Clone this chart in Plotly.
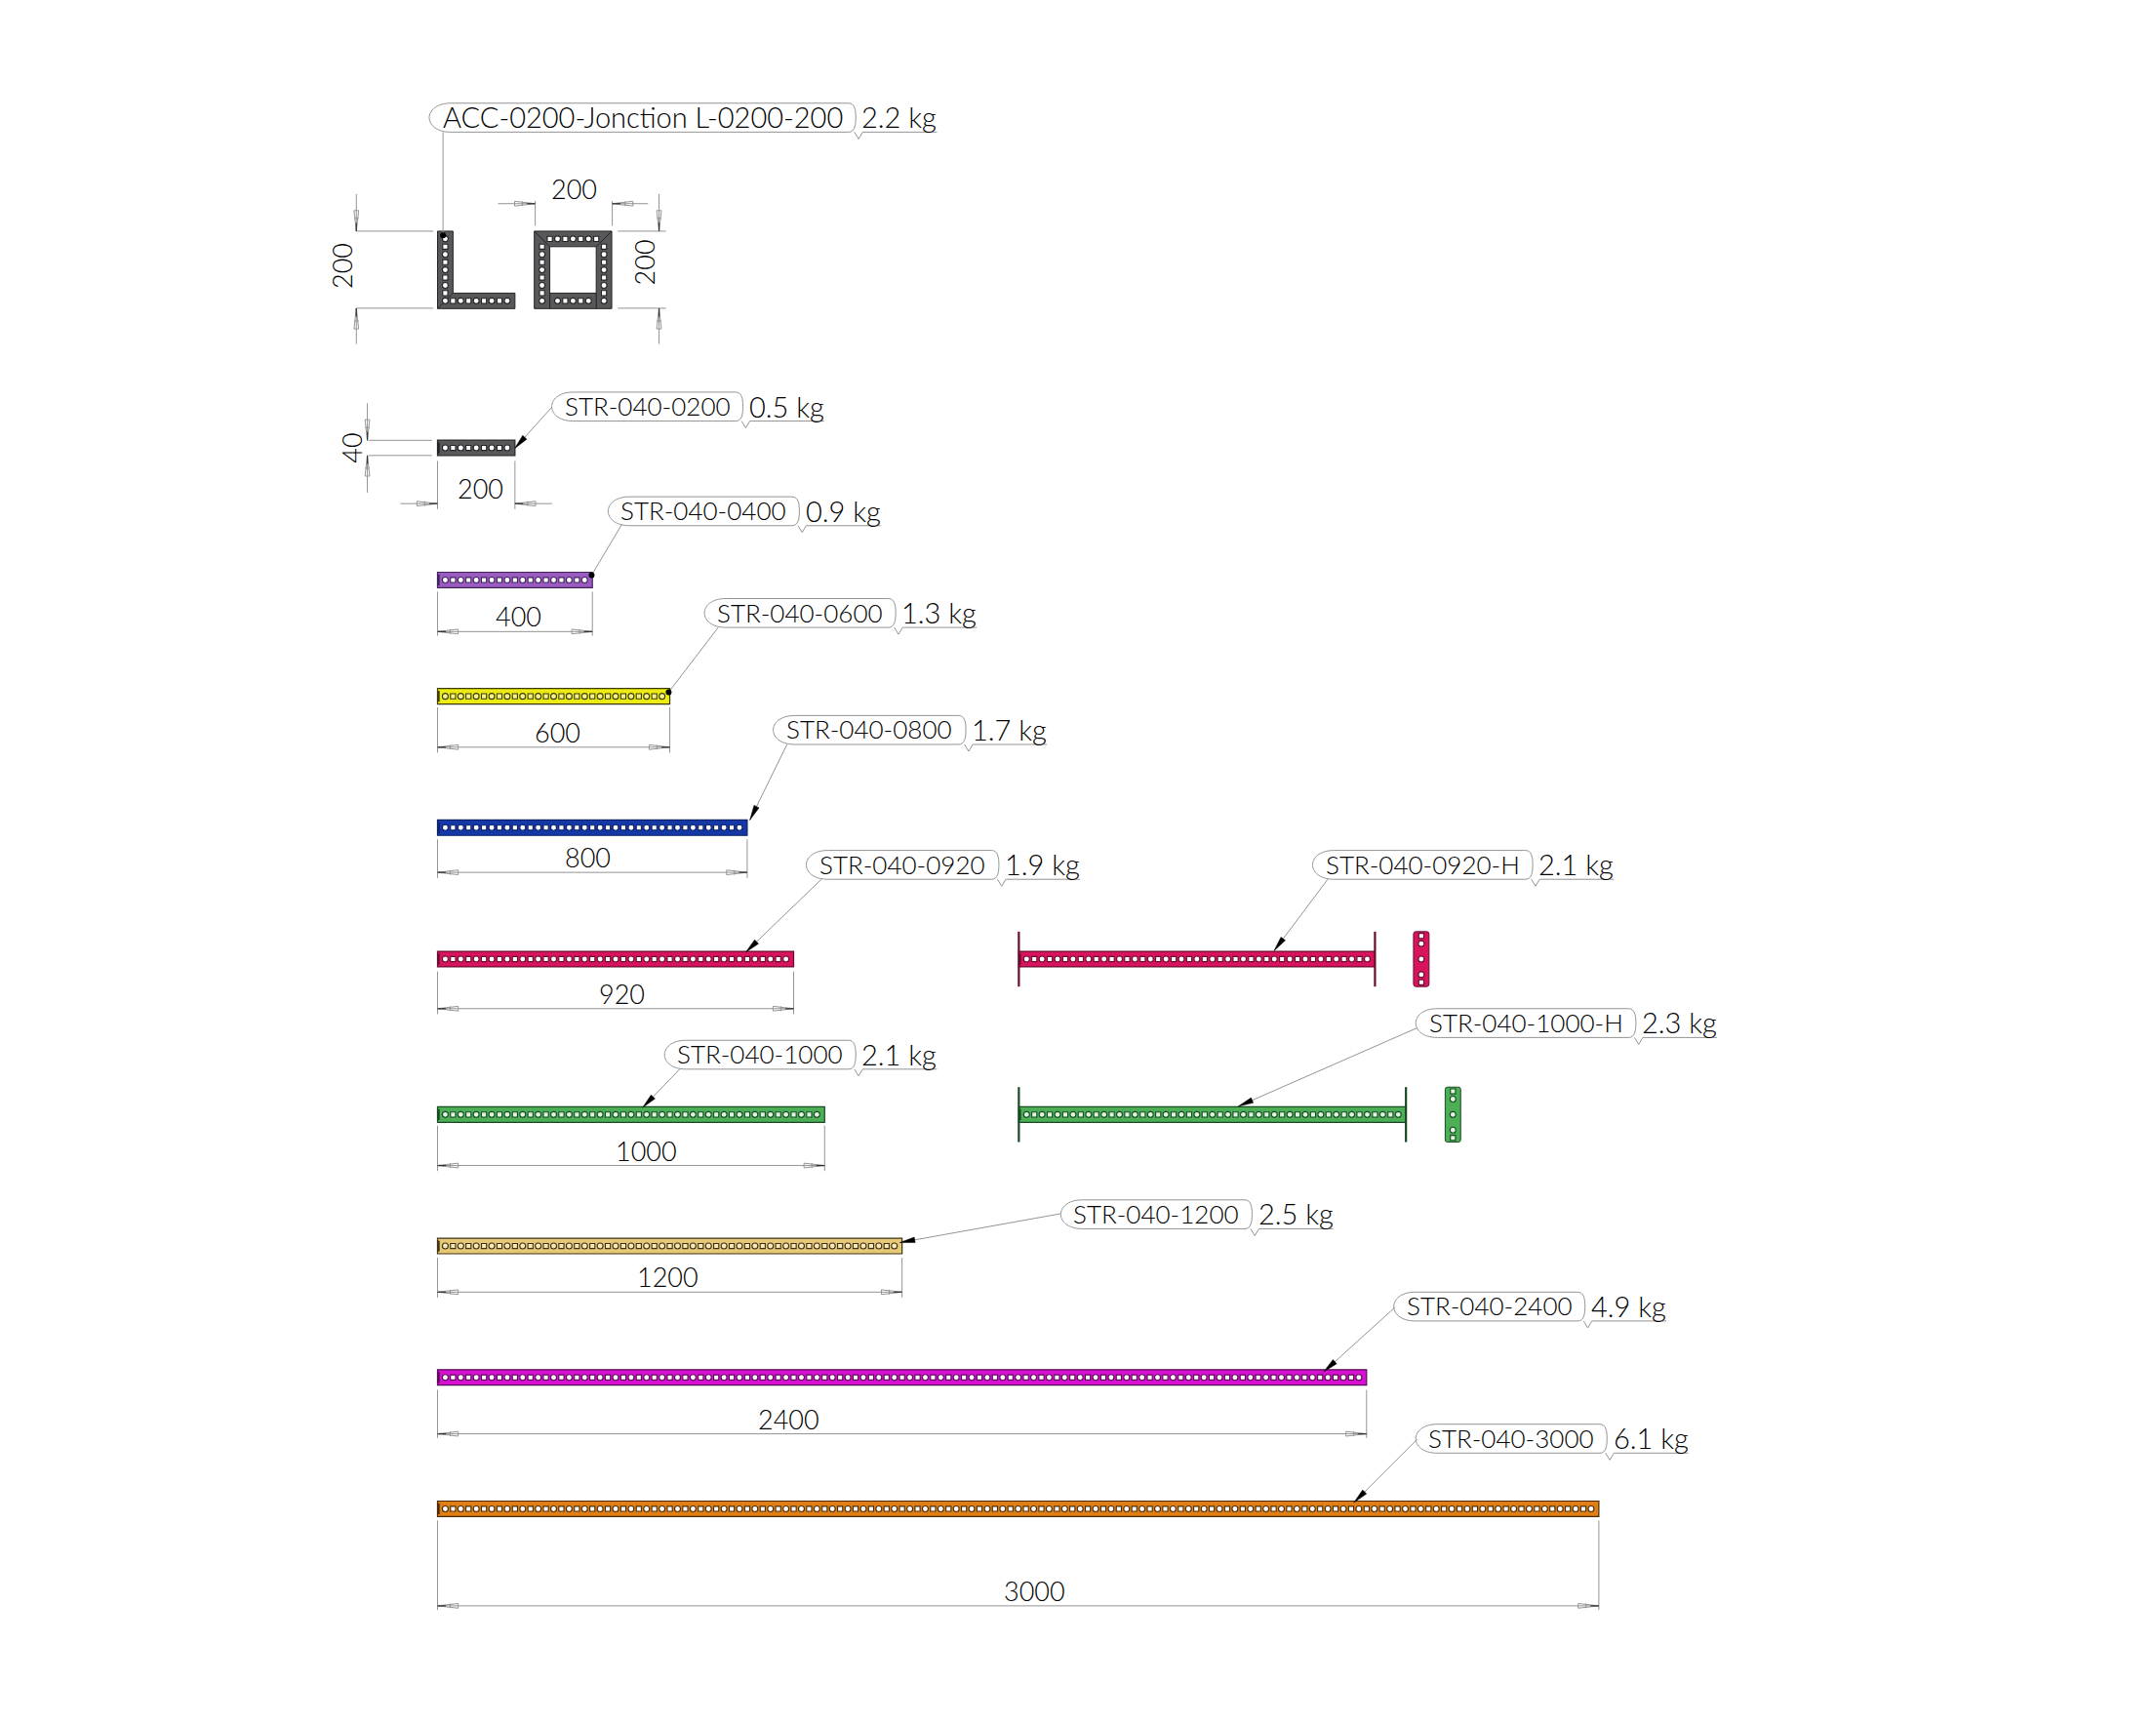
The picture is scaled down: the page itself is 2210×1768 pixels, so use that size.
import numpy as np
import plotly.graph_objects as go

# ---- values (millimetres, kilograms) ----
part_names = ["STR-040-0200", "STR-040-0400", "STR-040-0600", "STR-040-0800", "STR-040-0920",
              "STR-040-1000", "STR-040-1200", "STR-040-2400", "STR-040-3000"]
part_lengths = [200, 400, 600, 800, 920, 1000, 1200, 2400, 3000]
part_weights = ["0.5 kg", "0.9 kg", "1.3 kg", "1.7 kg", "1.9 kg", "2.1 kg", "2.5 kg", "4.9 kg", "6.1 kg"]
h_names = ["STR-040-0920-H", "STR-040-1000-H"]
h_lengths = [920, 1000]
h_weights = ["2.1 kg", "2.3 kg"]
junction_name = "ACC-0200-Jonction L-0200-200"
junction_weight = "2.2 kg"
junction_size = 200
bar_depth = 40
hole_pitch = 20

# ---- styles ----
part_fill = ["#58585a", "#9a5cc0", "#ecec12", "#1438a8", "#d8145e", "#4cae55", "#e6c878", "#d60fd0", "#e08014"]
part_edge = ["#232325", "#43235c", "#3c3a00", "#0c2266", "#6a0c30", "#174a22", "#3e3210", "#5a0a58", "#4a2a08"]
hole_fill = ["#ffffff", "#ffffff", "#f6f290", "#ffffff", "#ffffff", "#dff2df", "#f6e8bc", "#ffffff", "#ffffff"]
GREY = "#949494"
INK = "#000000"
FONT = "Lato"
FS = 27
FS_NAME = 26
FS_JUNCTION = 29
FS_WEIGHT = 29
FW = 300

# ---- page layout, in reference pixels of the preview ----
K = 2210 / 1567
S = 0.3968          # page px per mm
X0 = 318 * K
def mx(d): return (d * K - X0) / S
def my(d): return d * K / S
row_y = [325.5, 421.5, 506, 601.5, 697, 810, 905.5, 1001, 1096.5]
row_dim = [(366, 349, 355, 335, 370), (459, 377, 448, 430, 462), (543, 405, 532, 514, 547),
           (634, 427, 623, 610, 638), (733, 452, 722, 706, 737), (847, 470, 836, 818, 851),
           (939, 485, 928, 914, 943), (1042, 573, 1031, 1010, 1045), (1167, 752, 1156, 1105, 1170)]
# pill left, pill right, pill top, leader start x, y, leader tip x, y
callouts = [(401, 540, 285, 401, 296, 374, 326), (442, 581, 361, 452, 381, 430, 418),
            (512, 651, 435, 522, 456, 486, 503), (562, 702, 520, 572, 541, 545, 596),
            (586, 726, 618, 597, 639, 542, 692), (483, 622, 756, 494, 777, 467, 805),
            (771, 910, 872, 771, 882, 654, 903), (1013, 1152, 939, 1014, 950, 962, 997),
            (1029, 1168, 1035, 1030, 1046, 984, 1092)]
dot_tip = [False, True, True, False, False, False, False, False, False]
h_callouts = [(954, 1114, 618, 965, 639, 926, 691), (1029, 1189, 733, 1030, 747, 900, 804)]
h_row = [4, 5]
h_left = 740.5
h_y = [697, 810]
side_x = [1033, 1056]
junction_call = (312, 622, 75, 322, 96, 322, 171)
frame_offset = 250

fig = go.Figure()
lx, ly = [], []   # thin grey drawing lines
tx_d, ty_d = [], []  # dark arrow tips
ax_, ay_ = [], [] # black arrowheads
dx_, dy_ = [], [] # black dots
ann = []
shapes = []

def seg(x0, y0, x1, y1):
    lx.extend([mx(x0), mx(x1), None]); ly.extend([my(y0), my(y1), None])

def dim_arrow(tx, ty, dx, dy, L=15, h=1.7):
    nx, ny = -dy, dx
    pts = [(tx, ty), (tx + dx*L + nx*h, ty + dy*L + ny*h), (tx + dx*L - nx*h, ty + dy*L - ny*h), (tx, ty)]
    for p in pts:
        lx.append(mx(p[0])); ly.append(my(p[1]))
    lx.append(None); ly.append(None)
    seg(tx + dx*L*0.62 + nx*h, ty + dy*L*0.62 + ny*h, tx + dx*L*0.62 - nx*h, ty + dy*L*0.62 - ny*h)
    tx_d.extend([mx(tx), mx(tx + dx*6), None]); ty_d.extend([my(ty), my(ty + dy*6), None])

def text(x, y, s, angle=0, anchor="center", size=FS):
    ann.append(dict(x=mx(x), y=my(y), text=s, xref="x", yref="y", showarrow=False, textangle=angle,
                    xanchor=anchor, yanchor="middle", font=dict(family=FONT, size=size, color=INK, weight=FW)))

def callout(c, name, weight, dot=False, name_size=FS_NAME):
    x0, x1, top, sx, sy, tx, ty = c
    bot = top + 21
    xa0, xa1, ya0, ya1 = mx(x0), mx(x1), my(top), my(bot)
    r = (ya1 - ya0) / 2
    q = r * 0.45
    shapes.append(dict(type="path", xref="x", yref="y", line=dict(color=GREY, width=1),
        path=f"M {xa0+r*1.5},{ya0} L {xa1-r*0.5},{ya0} C {xa1-q*0.2},{ya0} {xa1},{ya0+q} {xa1},{ya0+r} "
             f"C {xa1},{ya1-q} {xa1-q*0.2},{ya1} {xa1-r*0.5},{ya1} L {xa0+r*1.5},{ya1} "
             f"C {xa0+q},{ya1} {xa0},{ya1-q*1.2} {xa0},{ya0+r} C {xa0},{ya0+q*1.2} {xa0+q},{ya0} {xa0+r*1.5},{ya0} Z"))
    text((x0 + x1) / 2, top + 10, name, size=name_size)
    text(x1 + 3, top + 10, weight, anchor="left", size=FS_WEIGHT)
    end = x1 + 59
    seg(x1 + 5, bot, end, bot)
    seg(x1 - 1, bot, x1 + 2, bot + 5)
    seg(x1 + 2, bot + 5, x1 + 5, bot)
    seg(sx, sy, tx, ty)
    if dot:
        dx_.append(mx(tx)); dy_.append(my(ty))
        return
    d = np.array([sx - tx, sy - ty], float)
    d /= np.hypot(*d)
    n = np.array([-d[1], d[0]])
    b = np.array([tx, ty]) + d * 11
    for p in [(tx, ty), tuple(b + n * 2), tuple(b - n * 2), (tx, ty)]:
        ax_.append(mx(p[0])); ay_.append(my(p[1]))
    ax_.append(None); ay_.append(None)

def holes(xs, ys, kinds, fill, edge):
    for sym, k in (("circle", 0), ("square", 1)):
        idx = [i for i, v in enumerate(kinds) if v == k]
        fig.add_trace(go.Scatter(x=[xs[i] for i in idx], y=[ys[i] for i in idx], mode="markers", hoverinfo="skip",
                                 marker=dict(symbol=sym, size=6 if k == 0 else 5.2, color=fill,
                                             line=dict(color=edge, width=1.1))))

def bar(base, length, y, i):
    fig.add_trace(go.Bar(orientation="h", base=[base], x=[length], y=[my(y)], width=[bar_depth], hoverinfo="skip",
                         marker=dict(color=part_fill[i], line=dict(color=part_edge[i], width=1.2))))
    fig.add_trace(go.Scatter(x=[base + 3, base + 3], y=[my(y) - 14, my(y) + 14], mode="lines", hoverinfo="skip",
                             line=dict(color=part_edge[i], width=2)))
    xs = list(np.arange(hole_pitch, length, hole_pitch) + base)
    holes(xs, [my(y)] * len(xs), [j % 2 for j in range(len(xs))], hole_fill[i], part_edge[i])

def poly(xs, ys, fill, edge):
    fig.add_trace(go.Scatter(x=xs, y=ys, mode="lines", fill="toself", fillcolor=fill, hoverinfo="skip",
                             line=dict(color=edge, width=1)))

# ---- plain bars ----
for i, (name, length, w) in enumerate(zip(part_names, part_lengths, part_weights)):
    bar(0, length, row_y[i], i)
    callout(callouts[i], name, w, dot_tip[i])
    dy, tx, ty, e0, e1 = row_dim[i]
    xr = 318 + length * S / K
    seg(318, e0, 318, e1)
    seg(xr, e0, xr, e1)
    text(tx, ty, str(length))
    if i == 0:
        seg(291, dy, 318, dy); seg(xr, dy, xr + 27, dy)
        dim_arrow(318, dy, -1, 0); dim_arrow(xr, dy, 1, 0)
    else:
        seg(318, dy, xr, dy)
        dim_arrow(318, dy, 1, 0); dim_arrow(xr, dy, -1, 0)

# ---- 40 dimension ----
seg(268, 320, 314, 320); seg(268, 331, 314, 331)
seg(267, 293, 267, 320); seg(267, 331, 267, 358)
dim_arrow(267, 320, 0, -1); dim_arrow(267, 331, 0, 1)
text(255, 325.5, str(bar_depth), angle=-90)

# ---- H variants ----
for j, (name, length, w) in enumerate(zip(h_names, h_lengths, h_weights)):
    i = h_row[j]
    base = mx(h_left)
    bar(base, length, h_y[j], i)
    callout(h_callouts[j], name, w)
    yc = my(h_y[j])
    for px in (base, base + length):
        fig.add_trace(go.Scatter(x=[px, px], y=[yc - 71, yc + 71], mode="lines", hoverinfo="skip",
                                 line=dict(color=part_edge[i], width=2.2)))
    sx = mx(side_x[j])
    c = 6
    shapes.append(dict(type="path", xref="x", yref="y", layer="below", fillcolor=part_fill[i],
        line=dict(color=part_edge[i], width=1),
        path=f"M {sx-20+c},{yc-71} L {sx+20-c},{yc-71} Q {sx+20},{yc-71} {sx+20},{yc-71+c} L {sx+20},{yc+71-c} "
             f"Q {sx+20},{yc+71} {sx+20-c},{yc+71} L {sx-20+c},{yc+71} Q {sx-20},{yc+71} {sx-20},{yc+71-c} "
             f"L {sx-20},{yc-71+c} Q {sx-20},{yc-71} {sx-20+c},{yc-71} Z"))
    offs = [-60, -40, 0, 40, 60]
    holes([sx] * 5, [yc + o for o in offs], [1, 0, 0, 0, 1], "#ffffff" if j == 0 else hole_fill[i], part_edge[i])

# ---- L junction and square frame ----
T = my(168)
G, E = part_fill[0], part_edge[0]
s = junction_size
poly([0, bar_depth, bar_depth, s, s, 0, 0], [T, T, T + s - bar_depth, T + s - bar_depth, T + s, T + s, T], G, E)
fig.add_trace(go.Scatter(x=[0, bar_depth], y=[T + s, T + s - bar_depth], mode="lines", hoverinfo="skip", line=dict(color=E, width=1)))
vy = list(np.arange(20, s, hole_pitch) + T)
holes([20] * len(vy), vy, [j % 2 for j in range(len(vy))], "#ffffff", E)
hx = list(np.arange(40, s, hole_pitch))
holes(hx, [T + s - 20] * len(hx), [(j + 1) % 2 for j in range(len(hx))], "#ffffff", E)

F = frame_offset
poly([F, F + s, F + s, F, F], [T, T, T + s, T + s, T], G, E)
poly([F + 40, F + s - 40, F + s - 40, F + 40, F + 40], [T + 40, T + 40, T + s - 40, T + s - 40, T + 40], "#ffffff", E)
fx, fy = [], []
for x0, y0, x1, y1 in [(F, T, F + 40, T + 40), (F + s, T, F + s - 40, T + 40),
                       (F + 40, T + s - 40, F + 40, T + s), (F + s - 40, T + s - 40, F + s - 40, T + s)]:
    fx += [x0, x1, None]; fy += [y0, y1, None]
fig.add_trace(go.Scatter(x=fx, y=fy, mode="lines", hoverinfo="skip", line=dict(color=E, width=1)))
tx_ = list(np.arange(40, s - 20, hole_pitch) + F)
holes(tx_, [T + 20] * len(tx_), [(j + 1) % 2 for j in range(len(tx_))], "#ffffff", E)
bx_ = list(np.arange(60, s - 40, hole_pitch) + F)
holes(bx_, [T + s - 20] * len(bx_), [j % 2 for j in range(len(bx_))], "#ffffff", E)
for col in (20, s - 20):
    vy2 = list(np.arange(40, s, hole_pitch) + T)
    holes([F + col] * len(vy2), vy2, [(j + 1) % 2 for j in range(len(vy2))], "#ffffff", E)

callout(junction_call, junction_name, junction_weight, dot=True, name_size=FS_JUNCTION)

seg(259, 168, 315, 168); seg(259, 224, 315, 224)
seg(259, 141, 259, 168); seg(259, 224, 259, 250)
dim_arrow(259, 168, 0, -1); dim_arrow(259, 224, 0, 1)
text(248, 193, str(junction_size), angle=-90)
seg(389, 146, 389, 164); seg(445, 146, 445, 164)
seg(362, 148, 389, 148); seg(445, 148, 471, 148)
dim_arrow(389, 148, -1, 0); dim_arrow(445, 148, 1, 0)
text(417, 137, str(junction_size))
seg(449, 168, 484, 168); seg(449, 224, 484, 224)
seg(479, 141, 479, 168); seg(479, 224, 479, 250)
dim_arrow(479, 168, 0, -1); dim_arrow(479, 224, 0, 1)
text(468, 191, str(junction_size), angle=-90)

fig.add_trace(go.Scatter(x=lx, y=ly, mode="lines", hoverinfo="skip", line=dict(color=GREY, width=1)))
fig.add_trace(go.Scatter(x=tx_d, y=ty_d, mode="lines", hoverinfo="skip", line=dict(color="#333333", width=1.2)))
fig.add_trace(go.Scatter(x=ax_, y=ay_, mode="lines", fill="toself", fillcolor="#000000", hoverinfo="skip",
                         line=dict(color="#000000", width=0.5)))
fig.add_trace(go.Scatter(x=dx_, y=dy_, mode="markers", hoverinfo="skip", marker=dict(color="#000000", size=6)))

fig.update_layout(
    width=2210, height=1768, margin=dict(l=0, r=0, t=0, b=0), showlegend=False, barmode="overlay",
    paper_bgcolor="#ffffff", plot_bgcolor="#ffffff", annotations=ann, shapes=shapes,
    xaxis=dict(visible=False, range=[-X0 / S, (2210 - X0) / S], fixedrange=True),
    yaxis=dict(visible=False, range=[1768 / S, 0], fixedrange=True),
)
fig.write_html("out.html", post_script="document.body.style.margin='0';document.body.style.overflow='hidden';",
               config={"displayModeBar": False})
